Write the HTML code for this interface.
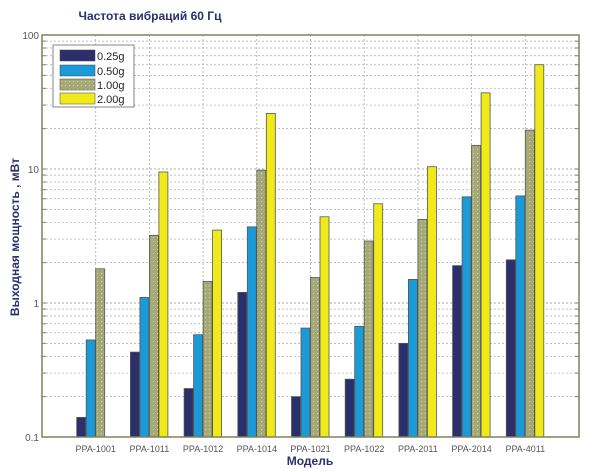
<!DOCTYPE html>
<html><head><meta charset="utf-8"><style>
body{margin:0;background:#fff;}
svg{display:block;font-family:"Liberation Sans",sans-serif;}
</style></head><body>
<svg id="c" width="600" height="472" viewBox="0 0 600 472">
<defs><pattern id="dots" width="4" height="4" patternUnits="userSpaceOnUse"><rect width="4" height="4" fill="#a3a97c"/><rect x="1" y="1" width="1" height="1" fill="#e8e060"/></pattern></defs>
<text x="150" y="20" text-anchor="middle" font-size="12" font-weight="bold" fill="#2b2f6b">Частота вибраций 60 Гц</text>
<text transform="translate(19,237) rotate(-90)" text-anchor="middle" font-size="12" font-weight="bold" fill="#2b2f6b">Выходная мощность , мВт</text>
<text x="310" y="465" text-anchor="middle" font-size="12" font-weight="bold" fill="#2b2f6b">Модель</text>
<g id="grid"></g><g id="bars"></g><g id="axes"></g>
<g>
<rect x="53" y="45" width="81" height="62" fill="#fff" stroke="#666" stroke-width="0.8"/>
<rect x="60" y="50" width="35" height="11" fill="#2b2f6b" stroke="#444" stroke-width="0.5"/><text x="97" y="60" font-size="11" fill="#222">0.25g</text>
<rect x="60" y="65" width="35" height="11" fill="#1a9ad6" stroke="#444" stroke-width="0.5"/><text x="97" y="75" font-size="11" fill="#222">0.50g</text>
<rect x="60" y="79" width="35" height="11" fill="url(#dots)" stroke="#444" stroke-width="0.5"/><text x="97" y="89" font-size="11" fill="#222">1.00g</text>
<rect x="60" y="93" width="35" height="11" fill="#f0ea1a" stroke="#444" stroke-width="0.5"/><text x="97" y="103" font-size="11" fill="#222">2.00g</text>
</g>
</svg>
<script>
const categories=["PPA-1001","PPA-1011","PPA-1012","PPA-1014","PPA-1021","PPA-1022","PPA-2011","PPA-2014","PPA-4011"];
const s025=[0.14,0.43,0.23,1.2,0.2,0.27,0.5,1.9,2.1];
const s050=[0.53,1.1,0.58,3.7,0.65,0.67,1.5,6.2,6.3];
const s100=[1.8,3.2,1.45,9.8,1.55,2.9,4.2,15,19.5];
const s200=[null,9.5,3.5,26,4.4,5.5,10.4,37,60];
const yTicks=[0.1,1,10,100];
const yTickLabels=["0.1","1","10","100"];
const L=42,R=579,T=35,B=437;
const ns="http://www.w3.org/2000/svg";
function y(v){return B-(Math.log10(v)+1)/3*(B-T);}
function x(i){return L+(i+1)*(R-L)/10;}
function el(t,a,p){const e=document.createElementNS(ns,t);for(const k in a)e.setAttribute(k,a[k]);document.getElementById(p).appendChild(e);return e;}
// grid
for(let d=-1;d<2;d++)for(let m=1;m<=10;m++){const v=m*Math.pow(10,d);if(v>=100&&m!=1)continue;const yy=y(v);
 if(v>0.1&&v<100){const g=el('line',{x1:L,x2:R,y1:yy,y2:yy,stroke:'#aaa','stroke-dasharray':'2,2','stroke-width':m==1||m==10?0.9:0.7},'grid');}
 const t=el('line',{x1:L,x2:L+4,y1:yy,y2:yy,stroke:'#808060'},'axes');
 const t2=el('line',{x1:R-4,x2:R,y1:yy,y2:yy,stroke:'#808060'},'axes');}
categories.forEach((c,i)=>{const g=el('line',{x1:x(i),x2:x(i),y1:T,y2:B,stroke:'#aaa','stroke-dasharray':'2,2','stroke-width':0.8},'grid');
 const t=el('text',{x:x(i),y:452,'text-anchor':'middle','font-size':9,fill:'#555'},'axes');t.textContent=c;});
yTicks.forEach((v,i)=>{const t=el('text',{x:L-3,y:y(v)+4,'text-anchor':'end','font-size':10,fill:'#555'},'axes');t.textContent=yTickLabels[i];});
const series=[[s025,'#2b2f6b',-19],[s050,'#1a9ad6',-9.5],[s100,'url(#dots)',0],[s200,'#f0ea1a',9.5]];
series.forEach(([arr,col,off],si)=>arr.forEach((v,i)=>{if(v==null)return;const r=el('rect',{x:x(i)+off,y:y(v),width:9,height:B-y(v),fill:col,stroke:'#555','stroke-width':0.8},'bars');}));
const f=el('rect',{x:L,y:T,width:R-L,height:B-T,fill:'none',stroke:'#808060','stroke-width':1.5},'axes');
</script>
</body></html>
